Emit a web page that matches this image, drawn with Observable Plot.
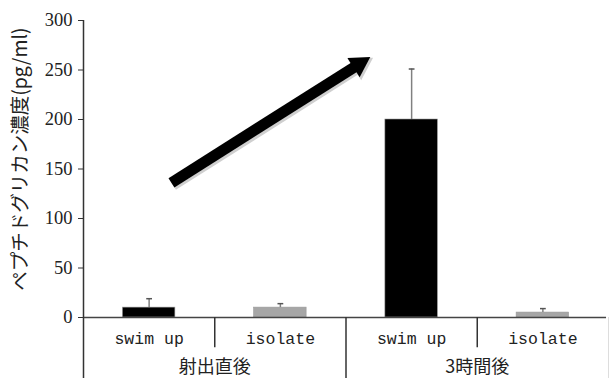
<!DOCTYPE html>
<html>
<head>
<meta charset="utf-8">
<script src="https://cdn.jsdelivr.net/npm/d3@7"></script>
<script src="https://cdn.jsdelivr.net/npm/@observablehq/plot@0.6"></script>
<style>
  html, body { margin: 0; padding: 0; background: #fff; }
</style>
</head>
<body>
<div id="chart"></div>
<script>
// Data
const groups = ["射出直後", "射出直後", "3時間後", "3時間後"];
const samples = ["swim up", "isolate", "swim up", "isolate"];
const means = [10, 10, 200, 5];
const errors = [9, 4, 51, 4];
const groupNames = ["射出直後", "3時間後"];
const yTicks = [0, 50, 100, 150, 200, 250, 300];
const yTitle = "ペプチドグリカン濃度(pg/ml)";
// Annotation arrow (data coordinates: category index, value)
const arrowFrom = [0.67, 136];
const arrowTo = [2.10, 256];

const rows = samples.map((s, i) => ({
  i, sample: s, group: groups[i], mean: means[i], err: errors[i],
  lo: means[i], hi: means[i] + errors[i]
}));
const groupRows = groupNames.map((g, k) => ({ g, x: 2 * k + 1 }));

const serif = "'Liberation Serif', 'DejaVu Serif', serif";
const mono = "'Liberation Mono', 'DejaVu Sans Mono', monospace";
const cjk = "'Noto Sans CJK JP', 'Noto Sans', sans-serif";

const W = 609, H = 378, ML = 83, MR = 1, MT = 20, MB = 0;
const xDom = [0, 4], yDom = [-61.6, 300];
// arrow direction in screen space, for rotating the head
const pxX = (W - ML - MR) / (xDom[1] - xDom[0]);
const pxY = (H - MT - MB) / (yDom[1] - yDom[0]);
const adx = (arrowTo[0] - arrowFrom[0]) * pxX;
const ady = -(arrowTo[1] - arrowFrom[1]) * pxY;
const headRot = Math.atan2(ady, adx) * 180 / Math.PI + 90;

const chart = Plot.plot({
  width: W,
  height: H,
  marginLeft: ML,
  marginRight: MR,
  marginTop: MT,
  marginBottom: MB,
  style: { background: "#fff", overflow: "visible" },
  x: { type: "linear", domain: xDom, axis: null },
  y: { domain: yDom, axis: null },
  color: { domain: ["swim up", "isolate"], range: ["#000000", "#a6a6a6"] },
  marks: [
    // y axis ticks & labels
    Plot.axisY({
      ticks: yTicks, tickSize: 5, tickFormat: d => d, label: null,
      fontFamily: serif, fontSize: 18.5, stroke: "#333", tickPadding: 6, fill: "#222"
    }),
    // y axis title
    Plot.text([yTitle], {
      x: -0.48, y: 160, text: d => d, rotate: -90,
      fontFamily: cjk, fontSize: 19.5, fill: "#222"
    }),
    // bars
    Plot.rectY(rows, {
      x1: d => d.i + 0.3, x2: d => d.i + 0.7, y1: 0, y2: "mean",
      fill: "sample", stroke: "#999", strokeWidth: 0.6
    }),
    // error bars
    Plot.ruleX(rows, { x: d => d.i + 0.5, y1: "lo", y2: "hi", stroke: "#808080", strokeWidth: 1.5 }),
    Plot.link(rows, {
      x1: d => d.i + 0.5 - 0.022, x2: d => d.i + 0.5 + 0.022, y1: "hi", y2: "hi",
      stroke: "#555", strokeWidth: 1.5
    }),
    // baseline
    Plot.ruleY([0], { x1: 0, x2: 3.985, stroke: "#444", strokeWidth: 1.5 }),
    // y axis line (extends through the category label area)
    Plot.ruleX([0], { y1: yDom[0], y2: 300, stroke: "#333", strokeWidth: 1.5 }),
    // category separators
    Plot.ruleX([1, 3], { y1: 0, y2: -30.5, stroke: "#333", strokeWidth: 1.5 }),
    Plot.ruleX([2], { y1: 0, y2: yDom[0], stroke: "#333", strokeWidth: 1.5 }),
    Plot.ruleX([4], { y1: 0, y2: yDom[0], stroke: "#ddd", strokeWidth: 1 }),
    // category labels
    Plot.text(rows, {
      x: d => d.i + 0.5, y: -21.5, text: "sample",
      fontFamily: mono, fontSize: 16.5, fill: "#222"
    }),
    // group labels
    Plot.text(groupRows, {
      x: "x", y: -50.5, text: "g",
      fontFamily: cjk, fontSize: 18, fill: "#222"
    }),
    // arrow shadow
    Plot.link([0], {
      x1: arrowFrom[0], y1: arrowFrom[1], x2: arrowTo[0], y2: arrowTo[1],
      stroke: "#cfcfcf", strokeWidth: 13, dx: 1, dy: 1.5
    }),
    Plot.dot([0], {
      x: arrowTo[0], y: arrowTo[1], symbol: "triangle", r: 9.5, rotate: headRot,
      fill: "#cfcfcf", stroke: "none", dx: 1.5, dy: 1.5
    }),
    // arrow shaft + head
    Plot.link([0], {
      x1: arrowFrom[0], y1: arrowFrom[1], x2: arrowTo[0], y2: arrowTo[1],
      stroke: "#000", strokeWidth: 11
    }),
    Plot.dot([0], {
      x: arrowTo[0], y: arrowTo[1], symbol: "triangle", r: 8.5, rotate: headRot,
      fill: "#000", stroke: "none"
    })
  ]
});
document.getElementById("chart").appendChild(chart);
</script>
</body>
</html>
